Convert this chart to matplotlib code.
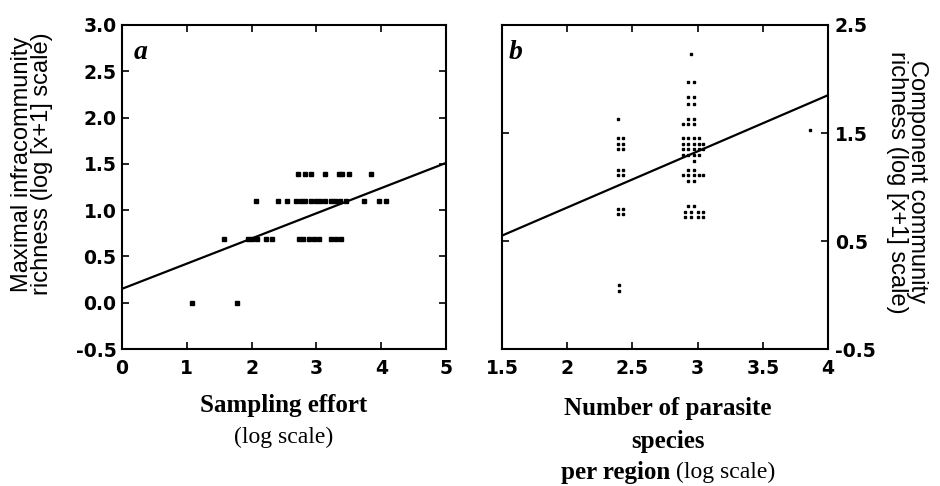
import matplotlib
matplotlib.use("Agg")
import matplotlib.pyplot as plt
import numpy as np

plt.rcParams['axes.unicode_minus'] = False

# ---------------- data ----------------
# Panel a: sampling effort (log) vs maximal infracommunity richness
a_row4_x = [2.72, 2.83, 2.91, 3.14, 3.35, 3.40, 3.51, 3.84]
a_row3_x = [2.07, 2.41, 2.54, 2.68, 2.76, 2.83, 2.91, 2.99, 3.06, 3.14,
            3.22, 3.29, 3.37, 3.45, 3.74, 3.97, 4.07]
a_row2_x = [1.58, 1.95, 2.01, 2.08, 2.22, 2.31, 2.73, 2.80, 2.88, 2.96,
            3.04, 3.22, 3.30, 3.38]
a_row1_x = [1.08, 1.77]
a_levels = [1.386, 1.099, 0.693, 0.0]
a_fit_x = [0.0, 5.0]
a_fit_y = [0.15, 1.51]

# Panel b: number of parasite species per region (log) vs component richness
b_x = [2.39,
       2.39, 2.43, 2.39, 2.43, 2.39, 2.43,
       2.39, 2.43, 2.39, 2.43,
       2.39, 2.43, 2.39, 2.43,
       2.40, 2.40,
       2.95,
       2.93, 2.97,
       2.93, 2.97, 2.93, 2.97,
       2.93, 2.97, 2.89, 2.93, 2.97,
       2.89, 2.93, 2.97, 3.01,
       2.89, 2.93, 2.97, 3.01, 3.04,
       2.89, 2.93, 2.97, 3.01, 3.04,
       2.89, 2.93, 2.97, 3.01,
       2.97,
       2.93, 2.97,
       2.89, 2.93, 2.97, 3.01, 3.04,
       2.93, 2.97,
       2.93, 2.97,
       2.90, 2.95, 3.00, 3.04,
       2.90, 2.95, 3.00, 3.04,
       3.86]
b_y = [1.63,
       1.45, 1.45, 1.40, 1.40, 1.35, 1.35,
       1.16, 1.16, 1.11, 1.11,
       0.80, 0.80, 0.75, 0.75,
       0.09, 0.04,
       2.23,
       1.97, 1.97,
       1.83, 1.83, 1.77, 1.77,
       1.63, 1.63, 1.58, 1.58, 1.58,
       1.45, 1.45, 1.45, 1.45,
       1.40, 1.40, 1.40, 1.40, 1.40,
       1.35, 1.35, 1.35, 1.35, 1.35,
       1.30, 1.30, 1.30, 1.30,
       1.24,
       1.16, 1.16,
       1.11, 1.11, 1.11, 1.11, 1.11,
       1.06, 1.06,
       0.82, 0.82,
       0.77, 0.77, 0.77, 0.77,
       0.72, 0.72, 0.72, 0.72,
       1.53]
b_fit_x = [1.5, 4.0]
b_fit_y = [0.55, 1.85]

a_xticks = [0, 1, 2, 3, 4, 5]
a_yticks = [-0.5, 0.0, 0.5, 1.0, 1.5, 2.0, 2.5, 3.0]
b_xticks = [1.5, 2, 2.5, 3, 3.5, 4]
b_yticks = [-0.5, 0.5, 1.5, 2.5]

# ---------------- figure ----------------
W, H = 940, 486
fig = plt.figure(figsize=(W / 100, H / 100), dpi=100)

def box(l, t, r, b):
    return [l / W, 1 - b / H, (r - l) / W, (b - t) / H]

ax_a = fig.add_axes(box(122, 25, 446, 349))
ax_b = fig.add_axes(box(502, 25, 828, 349))

tick_font = dict(family='DejaVu Sans', size=13.5, weight='bold')
serif = 'Liberation Serif'

for ax in (ax_a, ax_b):
    for s in ax.spines.values():
        s.set_linewidth(1.5)
    ax.tick_params(direction='in', length=5, width=1.2, top=True, right=True,
                   bottom=True, left=True)

# panel a
for lvl, xs in zip(a_levels, [a_row4_x, a_row3_x, a_row2_x, a_row1_x]):
    ax_a.plot(xs, [lvl] * len(xs), linestyle='none', marker='s',
              markersize=2.2, color='black')
ax_a.plot(a_fit_x, a_fit_y, color='black', linewidth=1.6)
ax_a.set_xlim(0, 5)
ax_a.set_ylim(-0.5, 3.0)
ax_a.set_xticks(a_xticks)
ax_a.set_yticks(a_yticks)
ax_a.set_xticklabels([str(v) for v in a_xticks], fontdict=tick_font)
ax_a.set_yticklabels(['%.1f' % v for v in a_yticks], fontdict=tick_font)
ax_a.tick_params(axis='x', pad=7)
ax_a.tick_params(axis='y', pad=4)
ax_a.text(0.035, 0.955, 'a', transform=ax_a.transAxes, ha='left', va='top',
          fontsize=20, fontweight='bold', fontstyle='italic', family=serif)

# panel b
ax_b.plot(b_x, b_y, linestyle='none', marker='s', markersize=2.0, color='black')
ax_b.plot(b_fit_x, b_fit_y, color='black', linewidth=1.6)
ax_b.set_xlim(1.5, 4.0)
ax_b.set_ylim(-0.5, 2.5)
ax_b.set_xticks(b_xticks)
ax_b.set_yticks(b_yticks)
ax_b.set_xticklabels([('%g' % v) for v in b_xticks], fontdict=tick_font)
ax_b.yaxis.tick_right()
ax_b.tick_params(left=True, right=True, labelleft=False, labelright=True)
ax_b.set_yticklabels(['%.1f' % v for v in b_yticks], fontdict=tick_font)
ax_b.tick_params(axis='x', pad=7)
ax_b.tick_params(axis='y', pad=5)
ax_b.text(0.02, 0.955, 'b', transform=ax_b.transAxes, ha='left', va='top',
          fontsize=20, fontweight='bold', fontstyle='italic', family=serif)

# y labels
fig.text(32 / W, 1 - 164 / H,
         'Maximal infracommunity\nrichness (log [x+1] scale)',
         rotation=90, ha='center', va='center', fontsize=17,
         family='Liberation Sans', linespacing=0.85)
fig.text(907 / W, 1 - 182 / H,
         'Component community\nrichness (log [x+1] scale)',
         rotation=-90, ha='center', va='center', fontsize=17,
         family='Liberation Sans', linespacing=0.85)

# x labels
fig.text(284 / W, 1 - 405 / H, 'Sampling effort', ha='center', va='center',
         fontsize=18, fontweight='bold', family=serif)
fig.text(284 / W, 1 - 437 / H, '(log scale)', ha='center', va='center',
         fontsize=17, family=serif)
fig.text(668 / W, 1 - 408 / H, 'Number of parasite', ha='center', va='center',
         fontsize=18, fontweight='bold', family=serif)
fig.text(668 / W, 1 - 441 / H, 'species', ha='center', va='center',
         fontsize=18, fontweight='bold', family=serif)
t1 = fig.text(0, 1 - 472 / H, 'per region ', ha='left', va='center',
              fontsize=18, fontweight='bold', family=serif)
t2 = fig.text(0, 1 - 472 / H, '(log scale)', ha='left', va='center',
              fontsize=17, family=serif)
r = fig.canvas.get_renderer()
w1 = t1.get_window_extent(r).width
w2 = t2.get_window_extent(r).width
x0 = 668 - (w1 + w2) / 2
t1.set_x(x0 / W)
t2.set_x((x0 + w1) / W)

fig.savefig('out.png', dpi=100)
